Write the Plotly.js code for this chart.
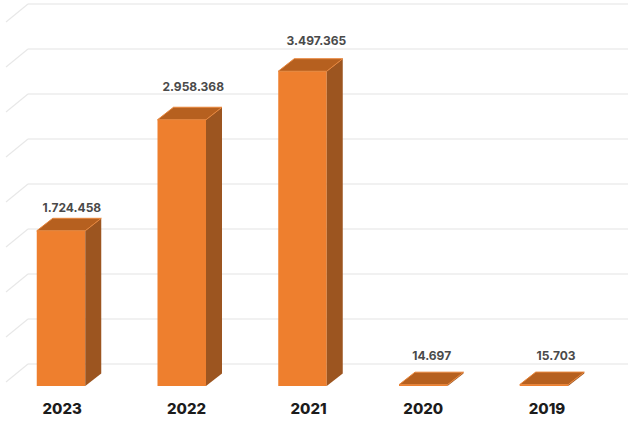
<!DOCTYPE html>
<html><head><meta charset="utf-8">
<script src="https://cdn.plot.ly/plotly-3.0.1.min.js"></script>
<style>html,body{margin:0;padding:0;background:#fff}</style></head>
<body><div id="chart" style="width:628px;height:421px"></div>
<script>
const years = ['2023','2022','2021','2020','2019'];
const values = [1724458,2958368,3497365,14697,15703];
const valueLabels = ['1.724.458','2.958.368','3.497.365','14.697','15.703'];
const gridValues = [0,500000,1000000,1500000,2000000,2500000,3000000,3500000,4000000];

// layout constants
const slot = 120.75, perPx = 11111;
const barW = 48.5/slot, depthX = 16/slot, depthY = 12.5*perPx;
const wallOff = 22*perPx, wallX0 = (28-61)/slot, wallX1 = (6-61)/slot, wallDy = 18*perPx;
const tickShift = [0.01,0.04,0.05,0,0.025];
const labelShiftX = [0.09,0.095,0.115,0.07,0.1];
const labelShiftPx = [9,19,17,15,15];
const idx = years.map((_,i)=>i);

const sideColor='#9C5520', topColor='#B6601F', frontColor='#EE7F2E';
const traces = [{
  type:'bar', x:idx, y:values, width:barW, marker:{color:frontColor,line:{width:0}}, hoverinfo:'skip', showlegend:false
}];
idx.forEach(i=>{
  const l=i-barW/2, r=i+barW/2, v=values[i];
  traces.push({type:'scatter',mode:'lines',fill:'toself',fillcolor:sideColor,line:{width:0,color:sideColor},
    x:[r,r+depthX,r+depthX,r,r],y:[0,depthY,v+depthY,v,0],hoverinfo:'skip',showlegend:false});
  traces.push({type:'scatter',mode:'lines',fill:'toself',fillcolor:topColor,line:{width:1,color:'#E8853A'},
    x:[l,r,r+depthX,l+depthX,l],y:[v,v,v+depthY,v+depthY,v],hoverinfo:'skip',showlegend:false});
});
traces.push({type:'scatter',mode:'text',x:idx.map(i=>i+labelShiftX[i]),
  y:values.map((v,i)=>v+depthY+labelShiftPx[i]*perPx),text:valueLabels,textposition:'middle center',
  textfont:{family:'Inter,sans-serif',size:12,weight:700,color:'#4a4a4a'},hoverinfo:'skip',showlegend:false});

const shapes=[];
gridValues.forEach(g=>{
  const y=g+wallOff;
  shapes.push({type:'line',layer:'below',xref:'x',yref:'y',x0:wallX0,x1:(628-61)/slot,y0:y,y1:y,line:{color:'#e4e4e4',width:1.2}});
  shapes.push({type:'line',layer:'below',xref:'x',yref:'y',x0:wallX0,x1:wallX1,y0:y,y1:y-wallDy,line:{color:'#e8e8e8',width:1.2}});
});

Plotly.newPlot('chart',traces,{
  width:628,height:421,margin:{l:0,r:0,t:0,b:35},paper_bgcolor:'#fff',plot_bgcolor:'#fff',
  showlegend:false,shapes:shapes,
  xaxis:{type:'linear',range:[-61/slot,(628-61)/slot],tickmode:'array',tickvals:idx.map(i=>i+tickShift[i]),ticktext:years,
    showgrid:false,zeroline:false,showline:false,ticks:'',ticklabelstandoff:12,
    tickfont:{family:'Inter,sans-serif',size:15,weight:800,color:'#1c1c1c'}},
  yaxis:{range:[0,386*perPx],showgrid:false,zeroline:false,showline:false,showticklabels:false,ticks:''}
},{displayModeBar:false,staticPlot:true});
</script></body></html>
